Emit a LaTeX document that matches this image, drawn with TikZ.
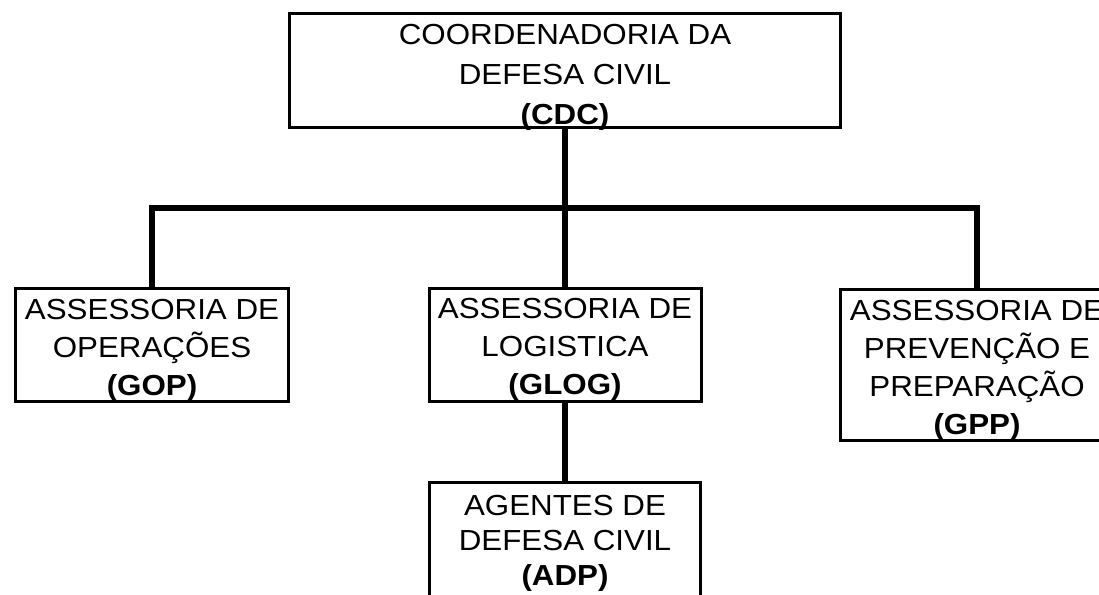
\documentclass[tikz,border=0pt]{standalone}
\usepackage{fontspec}
\setmainfont{Liberation Sans}[FakeStretch=1.08]
\begin{document}
\begin{tikzpicture}[x=1pt,y=-1pt,
  box/.style={draw=black,line width=3pt,fill=white,rectangle,inner sep=0pt},
  txt/.style={anchor=north,inner sep=0pt,align=center},
  conn/.style={draw=black,line width=6.5pt,line join=miter},
  big/.style={font=\fontsize{29}{40}\selectfont},
  mid/.style={font=\fontsize{29}{38}\selectfont},
  tight/.style={font=\fontsize{29}{35}\selectfont}]
\useasboundingbox (0,0) rectangle (1099,594);
% boxes
\node[box,minimum width=551pt,minimum height=114pt] (cdc) at (565,70.5) {};
\node[box,minimum width=273pt,minimum height=113pt] (gop) at (152,345) {};
\node[box,minimum width=272pt,minimum height=113pt] (glog) at (565,345) {};
\node[box,minimum width=273pt,minimum height=151pt] (gpp) at (977,365) {};
\node[box,minimum width=271pt,minimum height=156pt] (adp) at (565,560.5) {};
% texts
\node[txt,big] (cdcT) at (565,24.5) {COORDENADORIA DA\\DEFESA CIVIL\\\textbf{(CDC)}};
\node[txt,mid] (gopT) at (152,299.5) {ASSESSORIA DE\\OPERAÇÕES\\\textbf{(GOP)}};
\node[txt,mid] (glogT) at (565,298) {ASSESSORIA DE\\LOGISTICA\\\textbf{(GLOG)}};
\node[txt,mid] (gppT) at (977,300) {ASSESSORIA DE\\PREVENÇÃO E\\PREPARAÇÃO\\\textbf{(GPP)}};
\node[txt,tight] (adpT) at (565,495) {AGENTES DE\\DEFESA CIVIL\\\textbf{(ADP)}};
% connectors
\coordinate (bar) at (565,208);
\draw[conn] (gop.north) -- (gop.north |- bar) -- (gpp.north |- bar) -- (gpp.north);
\draw[conn] (cdc.south) -- (glog.north);
\draw[conn] (glog.south) -- (adp.north);
\end{tikzpicture}
\end{document}
